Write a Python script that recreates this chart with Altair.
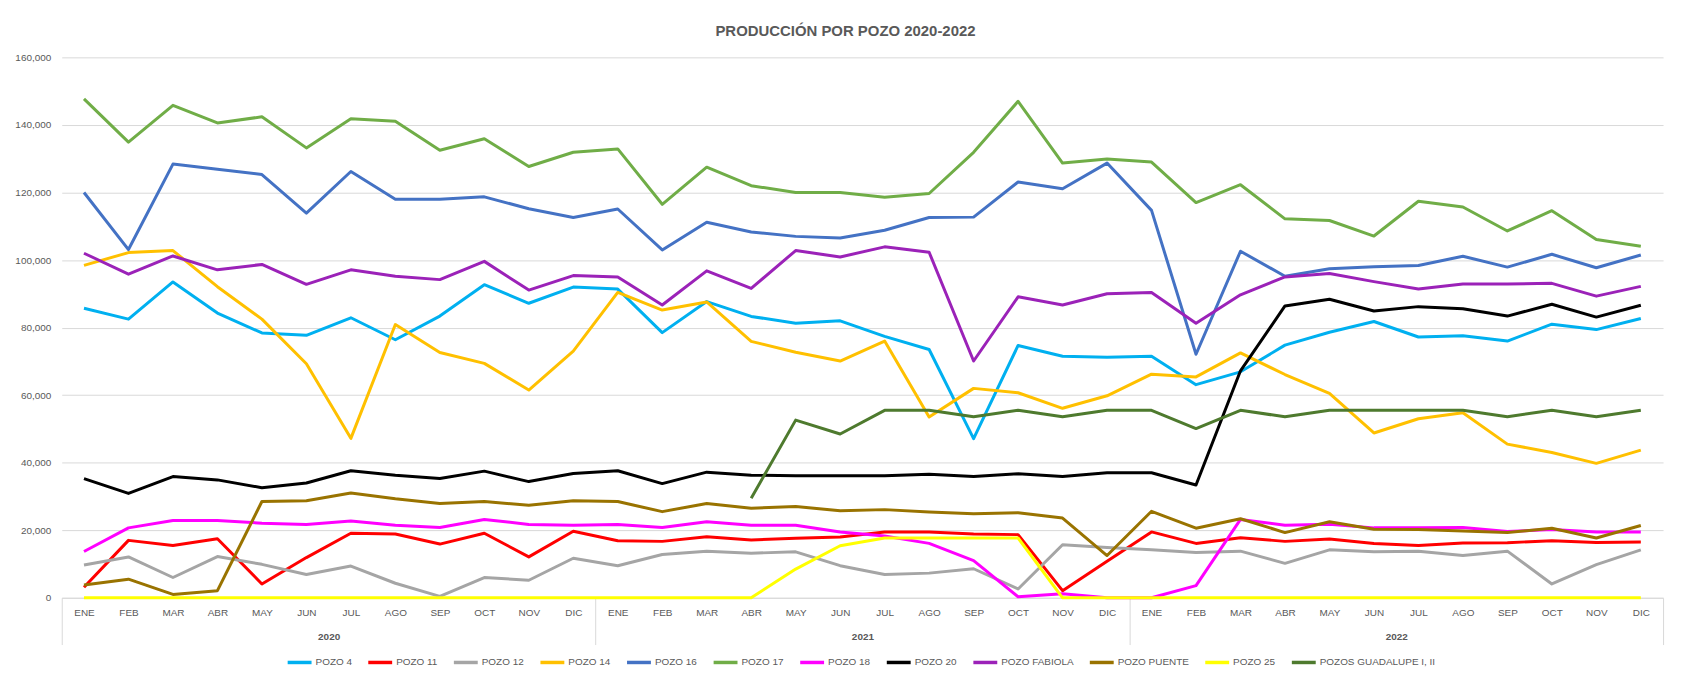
import json
import altair as alt
import pandas as pd

months = ["ENE", "FEB", "MAR", "ABR", "MAY", "JUN", "JUL", "AGO", "SEP", "OCT", "NOV", "DIC"]
years = ["2020", "2021", "2022"]

series_names = ["POZO 4", "POZO 11", "POZO 12", "POZO 14", "POZO 16", "POZO 17", "POZO 18",
                "POZO 20", "POZO FABIOLA", "POZO PUENTE", "POZO 25", "POZOS GUADALUPE I, II"]
series_colors = ["#00B0F0", "#FF0000", "#A5A5A5", "#FFC000", "#4472C4", "#70AD47", "#FF00FF",
                 "#000000", "#9B22B8", "#997300", "#FFFF00", "#4E7A2E"]

pozo_4 = [85700, 82500, 93500, 84300, 78400, 77700, 82900, 76400, 83400, 92700, 87200, 92000,
          91400, 78500, 87700, 83300, 81300, 82000, 77400, 73500, 47100, 74700, 71500, 71200,
          71500, 63100, 66900, 74800, 78600, 81800, 77200, 77600, 76000, 81000, 79400, 82700]
pozo_11 = [3100, 17000, 15500, 17500, 4100, 11900, 19100, 18900, 15900, 19100, 12100, 19700,
           16900, 16700, 18100, 17100, 17600, 18000, 19500, 19500, 18900, 18700, 2100, 10800,
           19500, 16100, 17800, 16700, 17400, 16100, 15500, 16200, 16300, 16900, 16400, 16500]
pozo_12 = [9700, 12100, 6000, 12200, 9900, 6900, 9400, 4300, 400, 6000, 5200, 11700,
           9500, 12800, 13800, 13200, 13600, 9500, 6900, 7300, 8600, 2600, 15700, 14900,
           14200, 13400, 13800, 10200, 14200, 13600, 13800, 12500, 13800, 4100, 9800, 14200]
pozo_14 = [98400, 102200, 102800, 92100, 82500, 69300, 47200, 80900, 72600, 69400, 61500, 73000,
           90400, 85200, 87600, 75900, 72700, 70100, 76000, 53500, 62000, 60700, 56100, 59800,
           66200, 65400, 72500, 66100, 60500, 48800, 53000, 54800, 45500, 43000, 39800, 43700]
pozo_16 = [120000, 103100, 128400, 126900, 125300, 113900, 126200, 118000, 118000, 118700, 115200, 112600,
           115100, 103000, 111200, 108300, 107000, 106500, 108800, 112600, 112700, 123100, 121100, 128700,
           114700, 72100, 102600, 95200, 97400, 98000, 98400, 101100, 97900, 101700, 97700, 101500]
pozo_17 = [147700, 134900, 145800, 140600, 142400, 133200, 141800, 141100, 132500, 135900, 127700, 131900,
           132900, 116500, 127500, 122000, 120000, 120000, 118600, 119700, 131900, 147000, 128700, 129900,
           129000, 117000, 122300, 112200, 111700, 107100, 117400, 115700, 108600, 114600, 106100, 104100]
pozo_18 = [13700, 20700, 22900, 22900, 22100, 21700, 22700, 21500, 20800, 23200, 21700, 21500,
           21700, 20800, 22500, 21500, 21500, 19500, 18300, 16100, 11000, 300, 1200, 0,
           0, 3600, 23200, 21500, 21800, 20700, 20700, 20800, 19600, 20200, 19500, 19500]
pozo_20 = [35300, 30900, 35900, 34900, 32600, 34000, 37600, 36300, 35300, 37500, 34400, 36800,
           37600, 33800, 37200, 36300, 36100, 36100, 36100, 36600, 35900, 36700, 35900, 37000,
           37000, 33400, 67200, 86400, 88400, 84900, 86200, 85600, 83400, 86900, 83100, 86600]
pozo_fabiola = [102000, 95800, 101200, 97100, 98700, 92800, 97100, 95200, 94200, 99600, 91100, 95400,
                95000, 86700, 96800, 91600, 102800, 100900, 103900, 102300, 70100, 89100, 86700, 90000,
                90400, 81300, 89700, 95000, 96000, 93600, 91400, 92900, 92900, 93100, 89300, 92200]
pozo_puente = [3800, 5500, 1000, 2100, 28500, 28700, 31000, 29300, 27900, 28500, 27400, 28700,
               28500, 25500, 27900, 26500, 27000, 25800, 26100, 25400, 24900, 25200, 23600, 12500,
               25600, 20600, 23400, 19300, 22500, 20300, 20200, 19800, 19300, 20600, 17700, 21400]
pozo_25 = [0, 0, 0, 0, 0, 0, 0, 0, 0, 0, 0, 0,
           0, 0, 0, 0, 8500, 15400, 17700, 17700, 17700, 17700, 0, 0,
           0, 0, 0, 0, 0, 0, 0, 0, 0, 0, 0, 0]
pozos_guadalupe = [None, None, None, None, None, None, None, None, None, None, None, None,
                   None, None, None, 29500, 52600, 48500, 55500, 55500, 53600, 55500, 53600, 55500,
                   55500, 50100, 55500, 53600, 55500, 55500, 55500, 55500, 53600, 55500, 53600, 55500]

series_values = [pozo_4, pozo_11, pozo_12, pozo_14, pozo_16, pozo_17, pozo_18,
                 pozo_20, pozo_fabiola, pozo_puente, pozo_25, pozos_guadalupe]

rows = []
for k, (name, vals) in enumerate(zip(series_names, series_values)):
    for i, v in enumerate(vals):
        if v is None:
            continue
        rows.append({"serie": name, "orden": k, "idx": i, "mes": months[i % 12],
                     "anio": years[i // 12], "valor": v})
df = pd.DataFrame(rows)

FONT = "Liberation Sans, Arial"
TXT = "#595959"
GRID = "#D9D9D9"
n = len(months) * len(years)

month_expr = json.dumps(months) + "[datum.value % 12]"
year_centers = [i * 12 + 5.5 for i in range(len(years))]
year_bounds = [i * 12 - 0.5 for i in range(len(years) + 1)]
year_expr = "".join(f"datum.value == {c} ? '{y}' : " for c, y in zip(year_centers, years)) + "''"

xscale = alt.Scale(domain=[-0.5, n - 0.5], nice=False, zero=False)
yenc = alt.Y("valor:Q", scale=alt.Scale(domain=[0, 160000], nice=False),
             axis=alt.Axis(values=list(range(0, 160001, 20000)), format=",.0f", ticks=False,
                           domain=False, gridColor=GRID, gridWidth=1, labelPadding=11,
                           labelColor=TXT, labelFontSize=10, labelFont=FONT, title=None))

lines = alt.Chart(df).mark_line(strokeWidth=3, strokeJoin="round").encode(
    x=alt.X("idx:Q", scale=xscale,
            axis=alt.Axis(orient="bottom", values=list(range(n)), labelExpr=month_expr,
                          ticks=False, domain=True, domainColor=GRID, grid=False,
                          labelPadding=10, labelColor=TXT, labelFontSize=10, labelFont=FONT,
                          labelFlush=False, labelOverlap=False, title=None)),
    y=yenc,
    color=alt.Color("serie:N", scale=alt.Scale(domain=series_names, range=series_colors),
                    legend=alt.Legend(title=None, orient="none", legendX=225, legendY=594,
                                      direction="horizontal", columns=12, symbolType="stroke",
                                      symbolStrokeWidth=3.5, symbolSize=576, labelFontSize=10,
                                      labelColor=TXT, labelFont=FONT, labelOffset=2,
                                      columnPadding=9)),
    order=alt.Order("orden:Q"),
    detail="serie:N",
)

year_axis_layer = alt.Chart(df).mark_point(opacity=0).encode(
    x=alt.X("idx:Q", scale=xscale,
            axis=alt.Axis(orient="bottom", values=sorted(year_bounds + year_centers),
                          labelExpr=year_expr, ticks=True, tickSize=47, tickColor=GRID,
                          tickWidth=1,
                          tickOpacity={"condition": {"test": "datum.value % 12 == 5.5", "value": 0},
                                       "value": 1},
                          domain=False, grid=False, labelPadding=-13, labelColor=TXT,
                          labelFontSize=10, labelFontWeight="bold", labelFont=FONT,
                          labelFlush=False, labelOverlap=False, title=None)),
    y=yenc,
)

chart = alt.layer(lines, year_axis_layer).resolve_axis(x="independent").properties(
    width=1609, height=543,
    autosize=alt.AutoSizeParams(type="none"),
    padding={"left": 54, "top": 48, "right": 13, "bottom": 80},
    title=alt.TitleParams(text="PRODUCCIÓN POR POZO 2020-2022", fontSize=15, fontWeight="bold",
                          color=TXT, font=FONT, anchor="middle", offset=13, dx=-17),
).configure_view(stroke=None)

chart.save("out.html", embed_options={"renderer": "svg", "actions": False})
